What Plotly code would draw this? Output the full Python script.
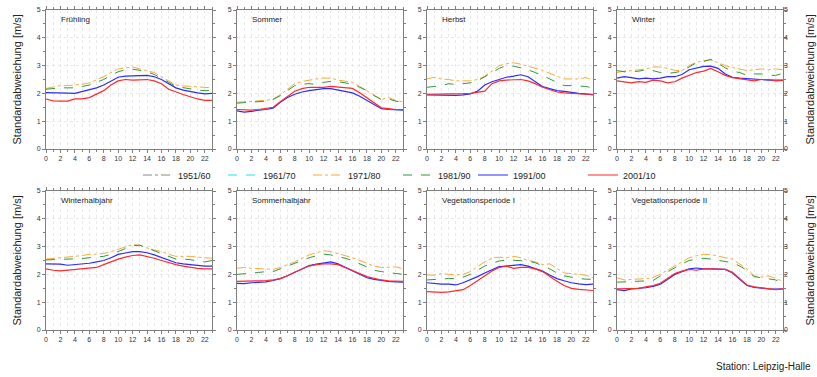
import plotly.graph_objects as go

hours = list(range(24))
x_ticks = list(range(0, 23, 2))
y_ticks = [0, 1, 2, 3, 4, 5]

periods = ["1951/60", "1961/70", "1971/80", "1981/90", "1991/00", "2001/10"]
panel_names = ["Frühling", "Sommer", "Herbst", "Winter",
               "Winterhalbjahr", "Sommerhalbjahr", "Vegetationsperiode I", "Vegetationsperiode II"]

# values per panel: 1971/80, 1981/90, 1991/00, 2001/10
fruehling_7180 = [2.18,2.22,2.28,2.28,2.3,2.33,2.38,2.48,2.6,2.75,2.88,2.92,2.95,2.88,2.82,2.75,2.6,2.45,2.3,2.27,2.25,2.22,2.2,2.2]
fruehling_8190 = [2.15,2.18,2.2,2.2,2.2,2.25,2.3,2.4,2.5,2.65,2.78,2.85,2.87,2.83,2.78,2.68,2.55,2.4,2.25,2.2,2.15,2.12,2.1,2.1]
fruehling_9100 = [2.03,2.03,2.02,2.01,2.0,2.07,2.12,2.2,2.3,2.45,2.58,2.62,2.63,2.66,2.65,2.6,2.5,2.35,2.2,2.12,2.06,2.02,1.98,2.0]
fruehling_0110 = [1.8,1.73,1.72,1.72,1.8,1.8,1.85,1.97,2.1,2.3,2.45,2.5,2.48,2.49,2.5,2.45,2.35,2.15,2.05,1.96,1.88,1.8,1.75,1.75]

sommer_7180 = [1.68,1.7,1.72,1.73,1.75,1.8,1.95,2.15,2.35,2.43,2.48,2.52,2.55,2.55,2.48,2.45,2.4,2.25,2.1,1.92,1.78,1.85,1.75,1.7]
sommer_8190 = [1.65,1.67,1.68,1.7,1.72,1.78,1.92,2.1,2.28,2.33,2.35,2.32,2.4,2.43,2.42,2.38,2.32,2.22,2.1,1.92,1.78,1.8,1.72,1.68]
sommer_9100 = [1.37,1.33,1.35,1.4,1.42,1.47,1.68,1.85,1.97,2.05,2.1,2.14,2.17,2.17,2.12,2.08,2.02,1.9,1.75,1.6,1.45,1.42,1.4,1.4]
sommer_0110 = [1.42,1.41,1.4,1.42,1.45,1.5,1.7,1.9,2.08,2.17,2.22,2.22,2.22,2.25,2.23,2.2,2.18,2.02,1.85,1.65,1.48,1.45,1.42,1.42]

herbst_7180 = [2.52,2.58,2.52,2.5,2.45,2.45,2.45,2.5,2.62,2.8,3.0,3.07,3.1,3.05,2.98,2.9,2.83,2.72,2.62,2.52,2.52,2.52,2.57,2.48]
herbst_8190 = [2.22,2.25,2.28,2.35,2.32,2.35,2.38,2.45,2.6,2.75,2.9,3.0,2.98,2.92,2.85,2.75,2.65,2.52,2.4,2.28,2.28,2.27,2.25,2.2]
herbst_9100 = [1.95,1.94,1.93,1.93,1.93,1.95,1.98,2.08,2.3,2.42,2.5,2.58,2.62,2.67,2.6,2.42,2.25,2.17,2.1,2.07,2.03,2.0,1.98,1.95]
herbst_0110 = [1.97,1.97,1.97,1.97,1.98,1.99,2.0,2.03,2.08,2.35,2.45,2.48,2.5,2.5,2.45,2.35,2.22,2.13,2.05,2.02,2.0,1.98,1.97,1.97]

winter_7180 = [2.75,2.8,2.82,2.85,2.88,2.95,2.95,2.9,2.83,2.82,3.0,3.12,3.18,3.22,3.1,3.0,2.93,2.88,2.82,2.85,2.88,2.85,2.88,2.85]
winter_8190 = [2.82,2.78,2.78,2.8,2.85,2.82,2.75,2.72,2.75,2.8,2.95,3.1,3.15,3.22,3.08,2.92,2.8,2.75,2.65,2.7,2.7,2.65,2.65,2.72]
winter_9100 = [2.55,2.6,2.57,2.52,2.55,2.52,2.55,2.6,2.6,2.68,2.85,2.92,2.97,2.98,2.9,2.7,2.58,2.55,2.53,2.52,2.5,2.48,2.48,2.48]
winter_0110 = [2.45,2.42,2.38,2.42,2.4,2.48,2.45,2.38,2.42,2.55,2.65,2.75,2.8,2.9,2.78,2.65,2.57,2.53,2.5,2.45,2.5,2.5,2.45,2.47]

whj_7180 = [2.55,2.57,2.6,2.62,2.65,2.68,2.72,2.73,2.75,2.82,2.9,2.98,3.07,3.05,2.95,2.88,2.82,2.72,2.65,2.65,2.65,2.62,2.6,2.58]
whj_8190 = [2.52,2.53,2.55,2.55,2.55,2.57,2.6,2.62,2.65,2.72,2.82,2.92,3.03,3.05,2.95,2.85,2.75,2.65,2.55,2.55,2.53,2.48,2.45,2.5]
whj_9100 = [2.38,2.38,2.37,2.33,2.35,2.37,2.4,2.45,2.5,2.6,2.72,2.77,2.82,2.82,2.78,2.7,2.6,2.5,2.42,2.38,2.35,2.32,2.3,2.3]
whj_0110 = [2.2,2.15,2.13,2.15,2.18,2.2,2.23,2.25,2.35,2.45,2.55,2.62,2.68,2.7,2.65,2.58,2.5,2.42,2.35,2.3,2.25,2.22,2.2,2.2]

shj_7180 = [2.22,2.25,2.22,2.2,2.2,2.18,2.25,2.35,2.45,2.58,2.7,2.78,2.85,2.82,2.75,2.68,2.6,2.5,2.4,2.3,2.25,2.25,2.27,2.2]
shj_8190 = [2.0,2.02,2.03,2.07,2.1,2.1,2.2,2.3,2.4,2.5,2.6,2.67,2.73,2.7,2.65,2.58,2.5,2.38,2.25,2.15,2.1,2.07,2.05,2.0]
shj_9100 = [1.68,1.67,1.7,1.72,1.73,1.78,1.85,1.95,2.08,2.2,2.32,2.37,2.4,2.45,2.38,2.25,2.12,2.0,1.88,1.82,1.78,1.75,1.73,1.72]
shj_0110 = [1.75,1.75,1.75,1.77,1.78,1.8,1.85,1.95,2.08,2.2,2.3,2.35,2.38,2.38,2.35,2.25,2.15,2.03,1.92,1.85,1.8,1.77,1.75,1.75]

veg1_7180 = [1.98,1.97,2.03,2.0,1.98,2.0,2.1,2.28,2.45,2.58,2.62,2.6,2.65,2.6,2.5,2.45,2.35,2.38,2.2,2.05,2.03,2.0,1.97,1.88]
veg1_8190 = [1.8,1.82,1.85,1.85,1.85,1.9,2.0,2.15,2.3,2.4,2.48,2.52,2.5,2.5,2.48,2.42,2.32,2.2,2.05,1.95,1.9,1.85,1.83,1.82]
veg1_9100 = [1.7,1.67,1.65,1.65,1.62,1.7,1.8,1.92,2.05,2.18,2.28,2.3,2.33,2.35,2.3,2.22,2.12,1.98,1.85,1.77,1.7,1.66,1.63,1.65]
veg1_0110 = [1.38,1.36,1.35,1.37,1.4,1.45,1.6,1.78,1.95,2.12,2.25,2.3,2.22,2.25,2.25,2.2,2.1,1.92,1.75,1.6,1.5,1.46,1.43,1.42]

veg2_7180 = [1.88,1.8,1.82,1.83,1.85,1.88,2.0,2.15,2.3,2.45,2.6,2.67,2.72,2.72,2.65,2.6,2.55,2.38,2.2,1.95,1.9,1.95,1.85,1.75]
veg2_8190 = [1.72,1.73,1.75,1.77,1.78,1.78,1.95,2.1,2.25,2.38,2.5,2.55,2.58,2.55,2.5,2.45,2.42,2.3,2.15,1.92,1.88,1.85,1.8,1.68]
veg2_9100 = [1.45,1.42,1.48,1.5,1.52,1.57,1.65,1.82,2.0,2.1,2.2,2.23,2.2,2.2,2.2,2.18,2.05,1.82,1.6,1.53,1.5,1.48,1.47,1.48]
veg2_0110 = [1.48,1.48,1.48,1.5,1.55,1.6,1.68,1.85,2.03,2.12,2.18,2.15,2.2,2.2,2.2,2.18,2.08,1.85,1.62,1.55,1.52,1.48,1.45,1.48]

panel_data = [
    [fruehling_7180, fruehling_8190, fruehling_9100, fruehling_0110],
    [sommer_7180, sommer_8190, sommer_9100, sommer_0110],
    [herbst_7180, herbst_8190, herbst_9100, herbst_0110],
    [winter_7180, winter_8190, winter_9100, winter_0110],
    [whj_7180, whj_8190, whj_9100, whj_0110],
    [shj_7180, shj_8190, shj_9100, shj_0110],
    [veg1_7180, veg1_8190, veg1_9100, veg1_0110],
    [veg2_7180, veg2_8190, veg2_9100, veg2_0110],
]

W, H = 817, 377
FONT = "Liberation Sans, Arial, sans-serif"


def px(x):
    return x / W


def py(y):
    return (H - y) / H


styles = {
    "1951/60": dict(color="#888888", dash="dashdot", width=1),
    "1961/70": dict(color="#19e6f0", dash="dash", width=1),
    "1971/80": dict(color="#ffa733", dash="dashdot", width=1),
    "1981/90": dict(color="#2f9a3a", dash="dash", width=1),
    "1991/00": dict(color="#2b2bff", dash="solid", width=1.2),
    "2001/10": dict(color="#ff2a2a", dash="solid", width=1.2),
}

col_px = [(46, 212), (237, 403), (427, 593), (617, 783)]
row_px = [(10, 149), (191, 330)]
legend_px = [138, 223, 308, 398, 473, 583]

fig = go.Figure()
layout = {}
axis_common = dict(showline=True, linecolor="#7f7f7f", linewidth=1, mirror="ticks",
                   ticks="outside", ticklen=3, tickcolor="#7f7f7f", automargin=False,
                   tickfont=dict(size=7, color="#333333", family=FONT),
                   gridcolor="#e8e8e8", griddash="dot", gridwidth=1, zeroline=False)

for i in range(8):
    r, c = divmod(i, 4)
    n = i + 1
    xa = "xaxis" if n == 1 else f"xaxis{n}"
    ya = "yaxis" if n == 1 else f"yaxis{n}"
    xs = "x" if n == 1 else f"x{n}"
    ys = "y" if n == 1 else f"y{n}"
    x0, x1 = col_px[c]
    y0, y1 = row_px[r]
    layout[xa] = dict(axis_common, domain=[px(x0), px(x1)], anchor=ys, range=[0, 23],
                      tickvals=x_ticks, showgrid=True,
                      minor=dict(dtick=1, tick0=0, ticks="outside", ticklen=2,
                                 tickcolor="#7f7f7f", showgrid=True,
                                 gridcolor="#e8e8e8", griddash="dot"))
    layout[ya] = dict(axis_common, domain=[py(y1), py(y0)], anchor=xs,
                      range=[0, 5], tickvals=y_ticks, showgrid=True,
                      minor=dict(dtick=0.5, tick0=0, ticks="outside", ticklen=2,
                                 tickcolor="#7f7f7f", showgrid=False))
    for k, per in enumerate(periods[2:]):
        fig.add_trace(go.Scatter(x=hours, y=panel_data[i][k], mode="lines",
                                 line=styles[per], name=per,
                                 showlegend=False, xaxis=xs, yaxis=ys, hoverinfo="skip"))
    fig.add_annotation(text=panel_names[i], xref=f"{xs} domain", yref=f"{ys} domain",
                       x=0.08, y=0.935, xanchor="left", yanchor="middle", showarrow=False,
                       font=dict(size=8, color="#222222", family=FONT))

# right-side labelled axes for the last column
for n, base in ((9, 4), (10, 8)):
    r = 0 if base == 4 else 1
    y0, y1 = row_px[r]
    layout[f"yaxis{n}"] = dict(domain=[py(y1), py(y0)], overlaying=f"y{base}",
                               anchor=f"x{base}", side="right", range=[0, 5], tickvals=y_ticks,
                               showgrid=False, showline=False, ticks="", automargin=False,
                               tickfont=dict(size=7, color="#333333", family=FONT),
                               zeroline=False)
    fig.add_trace(go.Scatter(x=[None], y=[None], xaxis=f"x{base}", yaxis=f"y{n}",
                             showlegend=False, hoverinfo="skip"))

# legend entries, one legend per period for exact placement
for k, per in enumerate(periods):
    lname = "legend" if k == 0 else f"legend{k + 1}"
    fig.add_trace(go.Scatter(x=[None], y=[None], mode="lines", line=styles[per],
                             name=per, showlegend=True, legend=lname, hoverinfo="skip"))
    layout[lname] = dict(orientation="h", x=px(legend_px[k]), y=py(175),
                         xanchor="left", yanchor="middle",
                         font=dict(size=9, family=FONT, color="#222222"),
                         bgcolor="rgba(0,0,0,0)", itemclick=False, itemdoubleclick=False)

# y titles
for r in range(2):
    y0, y1 = row_px[r]
    ym = py((y0 + y1) / 2)
    for xt in (16, 809):
        fig.add_annotation(text="Standardabweichung [m/s]", xref="paper", yref="paper",
                           x=px(xt), y=ym, xanchor="center", yanchor="middle",
                           textangle=-90, showarrow=False,
                           font=dict(size=11, color="#222222", family=FONT))

fig.add_annotation(text="Station: Leipzig-Halle", xref="paper", yref="paper",
                   x=px(813), y=py(366), xanchor="right", yanchor="middle",
                   showarrow=False, font=dict(size=10, color="#222222", family=FONT))

fig.update_layout(
    width=W, height=H, margin=dict(l=0, r=0, t=0, b=0, autoexpand=False),
    paper_bgcolor="white", plot_bgcolor="white",
    font=dict(family=FONT, color="#222222"),
    showlegend=True,
    **layout,
)

fig.write_html("out.html", config={"displayModeBar": False},
               post_script="document.body.style.margin='0';document.body.style.overflow='hidden';")
